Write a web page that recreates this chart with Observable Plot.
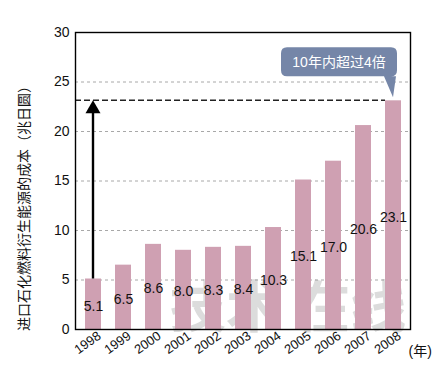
<!DOCTYPE html>
<html><head><meta charset="utf-8">
<script src="https://cdn.jsdelivr.net/npm/d3@7"></script>
<script src="https://cdn.jsdelivr.net/npm/@observablehq/plot@0.6"></script>
<style>body{margin:0;background:#fff}</style>
</head><body><div id="chart"></div>
<script>
const years = ["1998","1999","2000","2001","2002","2003","2004","2005","2006","2007","2008"];
const values = [5.1,6.5,8.6,8.0,8.3,8.4,10.3,15.1,17.0,20.6,23.1];
const yTicks = [0,5,10,15,20,25,30];
const gridTicks = [5,10,15,20,25];
const yLabel = "进口石化燃料衍生能源的成本（兆日圆）";
const unitLabel = "(年)";
const calloutText = "10年内超过4倍";
const watermark = "技术 在线";

const data = years.map((year, i) => ({year, value: values[i]}));
const font = "'Liberation Sans', Arial, 'Noto Sans CJK SC', sans-serif";

function annotation(index, scales) {
  const x = scales.x, y = scales.y;
  const bw = typeof x.bandwidth === "function" ? x.bandwidth() : (x.bandwidth || 0);
  const first = years[0], last = years[years.length - 1];
  const v0 = values[0], v1 = values[values.length - 1];
  const g = d3.create("svg:g");
  const left = x.range ? 75 : 75;
  const ax = x(first) + bw / 2;
  g.append("line").attr("x1", left).attr("x2", x(last)).attr("y1", y(v1)).attr("y2", y(v1))
    .attr("stroke", "#222").attr("stroke-width", 1.4).attr("stroke-dasharray", "6,3");
  g.append("line").attr("x1", ax).attr("x2", ax).attr("y1", y(v0)).attr("y2", y(v1) + 10)
    .attr("stroke", "#000").attr("stroke-width", 2.4);
  const ty = y(v1);
  g.append("path").attr("d", `M${ax},${ty}L${ax - 7.5},${ty + 13}L${ax + 7.5},${ty + 13}Z`).attr("fill", "#000");
  const cx = x(last) + bw / 2;
  const boxR = cx + 4, boxL = cx - 112, boxT = ty - 53, boxB = ty - 24;
  const r = 6;
  g.append("path").attr("d",
    `M${boxL + r},${boxT}H${boxR - r}Q${boxR},${boxT} ${boxR},${boxT + r}V${boxB - r}Q${boxR},${boxB} ${boxR - r},${boxB}` +
    `H${cx + 3}L${cx},${ty - 3}L${cx - 9},${boxB}H${boxL + r}Q${boxL},${boxB} ${boxL},${boxB - r}V${boxT + r}Q${boxL},${boxT} ${boxL + r},${boxT}Z`)
    .attr("fill", "#7586a8");
  g.append("text").attr("x", (boxL + boxR) / 2).attr("y", (boxT + boxB) / 2).attr("dy", "0.36em")
    .attr("text-anchor", "middle").attr("fill", "#fff").attr("font-size", 14)
    .attr("font-family", font).text(calloutText);
  return g.node();
}

const chart = Plot.plot({
  width: 441, height: 382,
  marginLeft: 75, marginRight: 31, marginTop: 32, marginBottom: 53,
  style: {fontFamily: font, fontSize: "14px", color: "#111", background: "#fff", overflow: "visible"},
  x: {domain: years, paddingInner: 0.475, paddingOuter: 0.2375, label: null},
  y: {domain: [0, 30], ticks: yTicks, label: null},
  marks: [
    Plot.ruleY(gridTicks, {stroke: "#a8a8a8", strokeDasharray: "3,3", strokeWidth: 1}),
    Plot.text([watermark], {frameAnchor: "bottom", textAnchor: "middle", dx: 45, dy: -20, lineAnchor: "middle", fontSize: 56, fontWeight: "bold", fill: "#8a8a8a", fillOpacity: 0.3, fontFamily: "'Noto Sans CJK SC', sans-serif"}),
    Plot.barY(data, {x: "year", y: "value", fill: "#cfa0b2"}),
    Plot.text(data, {x: "year", y: d => d.value / 2, text: d => d.value.toFixed(1), dy: 2, fontSize: 14, fill: "#111", style: {letterSpacing: "-0.9px"}}),
    annotation,
    Plot.frame({stroke: "#000", strokeWidth: 1.4}),
    Plot.axisY({ticks: yTicks, tickSize: 0, tickPadding: 6, fontSize: 14, label: null}),
    Plot.axisX({tickRotate: -35, tickSize: 0, tickPadding: 5, fontSize: 13, label: null, dx: 6}),
    Plot.text([unitLabel], {frameAnchor: "bottom-right", textAnchor: "start", dx: -2, dy: 26, fontSize: 14, fill: "#111"}),
    Plot.text([yLabel], {frameAnchor: "left", textAnchor: "middle", rotate: -90, dx: -51, dy: 24, fontSize: 14, fill: "#111", fontFamily: "'Noto Sans CJK SC', sans-serif"})
  ]
});
document.getElementById("chart").append(chart);
</script>
</body></html>
